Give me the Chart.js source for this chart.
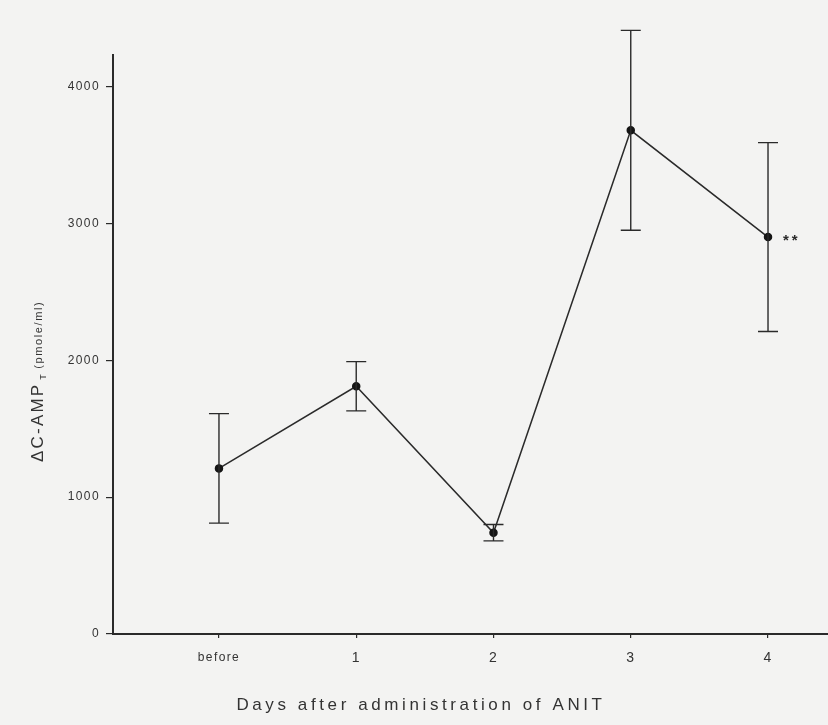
<!DOCTYPE html>
<html>
<head>
<meta charset="utf-8">
<title>ΔC-AMP after ANIT</title>
<script src="https://cdn.jsdelivr.net/npm/chart.js@4.4.1/dist/chart.umd.min.js"></script>
<style>
  html, body { margin: 0; padding: 0; background: #f3f3f2; }
  #wrap { width: 828px; height: 725px; position: relative; }
  canvas { display: block; }
</style>
</head>
<body>
<div id="wrap"><canvas id="chart" width="828" height="725"></canvas></div>
<script>
// Day positions and their tick labels
const categories = ['before', '1', '2', '3', '4'];
const days = [0, 1, 2, 3, 4];
// Mean ΔC-AMP (pmole/ml) and the half-length of each error bar
const meanValues = [1210, 1810, 740, 3680, 2900];
const errorValues = [400, 180, 60, 730, 690];
// Significance marks shown beside each point
const significance = ['', '', '', '', '**'];
// Y axis tick values
const yTicks = [0, 1000, 2000, 3000, 4000];

const INK = '#2a2a2a';
const TEXT = '#333333';
const FONT = '"Liberation Sans", Arial, sans-serif';

const points = days.map((d, i) => ({ x: d, y: meanValues[i] }));

const backdrop = {
  id: 'backdrop',
  beforeDraw(chart) {
    const ctx = chart.ctx;
    ctx.save();
    ctx.fillStyle = '#f3f3f2';
    ctx.fillRect(0, 0, chart.width, chart.height);
    ctx.restore();
    ctx.letterSpacing = '1.4px';
  }
};

const errorBars = {
  id: 'errorBars',
  afterDatasetsDraw(chart) {
    const ctx = chart.ctx;
    const xs = chart.scales.x, ys = chart.scales.y;
    ctx.save();
    ctx.strokeStyle = INK;
    ctx.lineWidth = 1.4;
    const cap = 10;
    days.forEach((d, i) => {
      const px = xs.getPixelForValue(d);
      const top = ys.getPixelForValue(meanValues[i] + errorValues[i]);
      const bot = ys.getPixelForValue(meanValues[i] - errorValues[i]);
      ctx.beginPath();
      ctx.moveTo(px, top); ctx.lineTo(px, bot);
      ctx.moveTo(px - cap, top); ctx.lineTo(px + cap, top);
      ctx.moveTo(px - cap, bot); ctx.lineTo(px + cap, bot);
      ctx.stroke();
      if (significance[i]) {
        ctx.fillStyle = INK;
        ctx.font = 'bold 15px ' + FONT;
        ctx.letterSpacing = '3px';
        ctx.textAlign = 'left';
        ctx.textBaseline = 'middle';
        ctx.fillText(significance[i], px + 15, ys.getPixelForValue(meanValues[i]) + 4);
      }
    });
    ctx.restore();
  }
};

const axisTitles = {
  id: 'axisTitles',
  afterDraw(chart) {
    const ctx = chart.ctx;
    ctx.save();
    ctx.fillStyle = TEXT;
    // x axis title
    ctx.font = '17px ' + FONT;
    ctx.letterSpacing = '3.6px';
    ctx.textAlign = 'center';
    ctx.textBaseline = 'alphabetic';
    ctx.fillText('Days after administration of ANIT', 421, 710);
    // y axis title, read bottom to top
    ctx.translate(43, 462);
    ctx.rotate(-Math.PI / 2);
    ctx.textAlign = 'left';
    ctx.font = '17px ' + FONT;
    ctx.letterSpacing = '2.2px';
    const main = 'ΔC-AMP';
    ctx.fillText(main, 0, 0);
    let off = ctx.measureText(main).width + 3;
    ctx.font = '9px ' + FONT;
    ctx.letterSpacing = '0px';
    ctx.fillText('T', off, 3);
    off += 11;
    ctx.font = '11px ' + FONT;
    ctx.letterSpacing = '1.6px';
    ctx.fillText('(pmole/ml)', off, -1);
    ctx.restore();
  }
};

new Chart(document.getElementById('chart'), {
  type: 'line',
  data: {
    datasets: [{
      data: points,
      borderColor: INK,
      borderWidth: 1.5,
      pointRadius: 3.5,
      pointBackgroundColor: '#151515',
      pointBorderColor: '#151515',
      tension: 0,
      clip: false
    }]
  },
  options: {
    responsive: false,
    animation: false,
    events: [],
    layout: { autoPadding: false, padding: { top: 55, left: 0, right: 0, bottom: 0 } },
    plugins: { legend: { display: false }, tooltip: { enabled: false } },
    scales: {
      x: {
        type: 'linear',
        min: -0.772,
        max: 4.437,
        afterFit(s) { s.height = 91; },
        afterBuildTicks(s) { s.ticks = days.map(v => ({ value: v })); },
        border: { display: true, color: INK, width: 2 },
        grid: { drawOnChartArea: false, drawTicks: true, tickLength: 4, color: INK, lineWidth: 1.2 },
        ticks: {
          color: TEXT,
          padding: 12,
          font: (c) => ({ family: FONT, size: c.index === 0 ? 12 : 14 }),
          callback: (v, i) => categories[i]
        }
      },
      y: {
        type: 'linear',
        min: 0,
        max: 4230,
        afterFit(s) { s.width = 113; },
        afterBuildTicks(s) { s.ticks = yTicks.map(v => ({ value: v })); },
        border: { display: true, color: INK, width: 2 },
        grid: { drawOnChartArea: false, drawTicks: true, tickLength: 7, color: INK, lineWidth: 1.2 },
        ticks: {
          color: TEXT,
          padding: 6,
          font: { family: FONT, size: 12 },
          callback: (v) => String(v)
        }
      }
    }
  },
  plugins: [backdrop, errorBars, axisTitles]
});
</script>
</body>
</html>
